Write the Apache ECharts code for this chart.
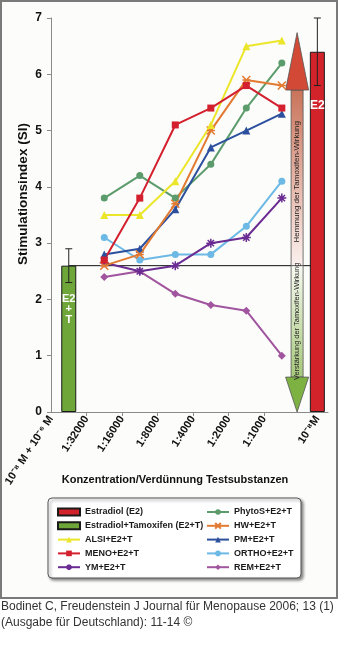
<!DOCTYPE html>
<html><head><meta charset="utf-8">
<script src="https://cdn.jsdelivr.net/npm/echarts@6/dist/echarts.min.js"></script>
<style>html,body{margin:0;padding:0;background:#fff;}#c{width:338px;height:661px;}</style>
</head><body><div id="c"></div>
<script>
// ---- data ----
const dilutions = ['1:32000','1:16000','1:8000','1:4000','1:2000','1:1000'];
const controlLabelE2T = '10⁻⁸ M + 10⁻⁶ M';
const controlLabelE2 = '10⁻⁸M';
const e2Value = 6.4, e2Err = 0.6;
const e2tValue = 2.6, e2tErr = 0.3;
const ALSI   = [3.5, 3.5, 4.1, 5.1, 6.5, 6.6];
const MENO   = [2.7, 3.8, 5.1, 5.4, 5.8, 5.4];
const YM     = [2.65, 2.5, 2.6, 3.0, 3.1, 3.8];
const PhytoS = [3.8, 4.2, 3.8, 4.4, 5.4, 6.2];
const HW     = [2.6, 2.8, 3.7, 5.0, 5.9, 5.8];
const PM     = [2.8, 2.9, 3.6, 4.7, 5.0, 5.3];
const ORTHO  = [3.1, 2.7, 2.8, 2.8, 3.3, 4.1];
const REM    = [2.4, 2.5, 2.1, 1.9, 1.8, 1.0];
const yTicks = [0,1,2,3,4,5,6,7];
const upText = 'Hemmung der Tamoxifen-Wirkung';
const downText = 'Verstärkung der Tamoxifen-Wirkung';

// ---- layout helpers (positions, not data) ----
const FONT = '"Liberation Sans", Arial, sans-serif';
const pos = i => i + 1.5;          // slot of dilution i
const E2T_X = 0.5, E2_X = 7.5, ARROW_X = 6.93;
const lineData = arr => arr.map((v,i)=>[pos(i), v]);
const labelMap = {0: controlLabelE2T, 7.5: controlLabelE2};
dilutions.forEach((d,i)=>{ labelMap[i+1] = d; });

const X_PATH = 'path://M0,0L10,10M10,0L0,10M0,5L10,5';
const STAR_PATH = 'path://M5,0L5,10M0,5L10,5M1.5,1.5L8.5,8.5M8.5,1.5L1.5,8.5';

function lineSeries(name, data, color, symbol, size, extra){
  return Object.assign({
    name, type:'line', data: lineData(data), symbol, symbolSize: size,
    lineStyle:{color, width:2}, itemStyle:{color, borderColor: color, borderWidth: 0},
    z: 4, silent:true, animation:false
  }, extra||{});
}

const legendText = {fontSize:9, fontWeight:'bold', color:'#1a1a1a', fontFamily:FONT, lineHeight:12};
const chart = echarts.init(document.getElementById('c'), null, {renderer:'canvas'});
const option = {
  animation:false,
  textStyle:{fontFamily: FONT},
  grid:{left:51, right:10, top:18, bottom:249, containLabel:false},
  xAxis:{
    type:'value', min:0, max:7.8,
    axisLine:{show:true, lineStyle:{color:'#8a8a8a', width:1}},
    axisTick:{show:true, customValues:[1,2,3,4,5,6], length:4, lineStyle:{color:'#8a8a8a'}},
    axisLabel:{show:true, customValues:[0,1,2,3,4,5,6,7.5], rotate:57, margin:5,
      formatter: v => labelMap[v] || '', fontSize:11, fontWeight:'bold', color:'#111', fontFamily:FONT},
    splitLine:{show:false}
  },
  yAxis:{
    type:'value', min:0, max:7, interval:1,
    axisLine:{show:true, lineStyle:{color:'#8a8a8a', width:1}},
    axisTick:{show:true, length:4, lineStyle:{color:'#8a8a8a'}},
    axisLabel:{fontSize:12, fontWeight:'bold', color:'#111', margin:9, fontFamily:FONT,
      formatter: v => yTicks.includes(v) ? String(v) : ''},
    splitLine:{show:false}
  },
  legend:[
    {orient:'vertical', left:57, top:506, padding:0, itemWidth:22, itemHeight:7, itemGap:1.8, itemStyle:{},
     textStyle:legendText,
     data:[{name:'Estradiol (E2)', icon:'rect'},{name:'Estradiol+Tamoxifen (E2+T)', icon:'rect'},'ALSI+E2+T','MENO+E2+T','YM+E2+T']},
    {orient:'vertical', left:206, top:506, padding:0, itemWidth:22, itemHeight:7, itemGap:1.8,
     textStyle:legendText,
     data:['PhytoS+E2+T','HW+E2+T','PM+E2+T','ORTHO+E2+T','REM+E2+T']}
  ],
  graphic:[
    {type:'rect', shape:{x:1, y:1, width:336, height:597}, style:{fill:'#fcfcfa', stroke:'#7a7a7a', lineWidth:2}, z:-10, silent:true},
    {type:'rect', shape:{x:48, y:498, width:253, height:80, r:4},
     style:{fill:'#fff', stroke:'#555', lineWidth:1, shadowBlur:3, shadowOffsetX:2, shadowOffsetY:2, shadowColor:'rgba(0,0,0,0.45)'}, z:-5, silent:true},
    {type:'text', x:23, y:194, rotation:Math.PI/2, style:{text:'Stimulationsindex (SI)', font:'bold 13.5px '+FONT, fill:'#111', align:'center', verticalAlign:'middle'}, silent:true},
    {type:'text', x:175, y:480, style:{text:'Konzentration/Verdünnung Testsubstanzen', font:'bold 11px '+FONT, fill:'#111', align:'center', verticalAlign:'middle'}, silent:true},
    {type:'text', x:1, y:607, style:{text:'Bodinet C, Freudenstein J Journal für Menopause 2006; 13 (1)', font:'12px '+FONT, fill:'#333', align:'left', verticalAlign:'middle'}, silent:true},
    {type:'text', x:1, y:623, style:{text:'(Ausgabe für Deutschland): 11-14 ©', font:'12px '+FONT, fill:'#333', align:'left', verticalAlign:'middle'}, silent:true}
  ],
  series:[
    // reference line at E2+T level
    {name:'ref', type:'line', data:[[E2T_X, e2tValue],[E2_X, e2tValue]], symbol:'none',
     lineStyle:{color:'#111', width:1}, z:1, silent:true},
    // arrows
    {name:'arrows', type:'custom', z:2, silent:true,
     data:[[ARROW_X, e2tValue, 6.74, 5.72, 0],[ARROW_X, e2tValue, 0, 0.62, 1]],
     renderItem:(p, api)=>{
       const x = api.value(0), base = api.coord([x, api.value(1)]), tip = api.coord([x, api.value(2)]), hb = api.coord([x, api.value(3)]);
       const up = api.value(4) === 0;
       const sw = 6, hw = 11.5, cx = base[0];
       const y0 = Math.min(base[1], hb[1]), y1 = Math.max(base[1], hb[1]);
       const shaftGrad = up
         ? new echarts.graphic.LinearGradient(0,0,0,1,[{offset:0,color:'#c9735a'},{offset:1,color:'#fbf1ee'}])
         : new echarts.graphic.LinearGradient(0,0,0,1,[{offset:0,color:'#f7faf2'},{offset:1,color:'#a6c77a'}]);
       const headColor = up ? '#d24a36' : '#7db142';
       return {type:'group', children:[
         {type:'rect', shape:{x:cx-sw, y:y0, width:2*sw, height:y1-y0}, style:{fill:shaftGrad, stroke:'#555', lineWidth:0.8}},
         {type:'polygon', shape:{points:[[cx-hw,hb[1]],[cx+hw,hb[1]],[cx,tip[1]]]}, style:{fill:headColor, stroke:'#555', lineWidth:0.8}},
         {type:'text', x:cx, y:(y0+y1)/2 + (up? 4 : 0), rotation:Math.PI/2,
          style:{text: up ? upText : downText, font: (up?'8px ':'7.4px ')+FONT, fill:'#222', align:'center', verticalAlign:'middle'}}
       ]};
     }},
    // bars
    {name:'Estradiol+Tamoxifen (E2+T)', type:'bar', data:[[E2T_X, e2tValue]], barWidth:15, z:3,
     itemStyle:{color:'#6ea63a', borderColor:'#1a1a1a', borderWidth:1},
     label:{show:true, position:'insideTop', distance:28, formatter:'E2\n+\nT', color:'#fff', fontSize:11, fontWeight:'bold', lineHeight:10.5, fontFamily:FONT}},
    {name:'Estradiol (E2)', type:'bar', data:[[E2_X, e2Value]], barWidth:15, barGap:'-100%', z:3,
     itemStyle:{color:'#d2232a', borderColor:'#1a1a1a', borderWidth:1},
     label:{show:true, position:'insideTop', distance:48, formatter:'E2', color:'#fff', fontSize:12, fontWeight:'bold', fontFamily:FONT}},
    // error bars
    {name:'err', type:'custom', z:5, silent:true,
     data:[[E2T_X, e2tValue-e2tErr, e2tValue+e2tErr],[E2_X, e2Value-e2Err, e2Value+e2Err]],
     renderItem:(p, api)=>{
       const x = api.value(0), a = api.coord([x, api.value(2)]), b = api.coord([x, api.value(1)]), w = 3.5;
       const st = {stroke:'#222', lineWidth:1};
       return {type:'group', children:[
         {type:'line', shape:{x1:a[0], y1:a[1], x2:b[0], y2:b[1]}, style:st},
         {type:'line', shape:{x1:a[0]-w, y1:a[1], x2:a[0]+w, y2:a[1]}, style:st},
         {type:'line', shape:{x1:b[0]-w, y1:b[1], x2:b[0]+w, y2:b[1]}, style:st}
       ]};
     }},
    lineSeries('REM+E2+T', REM, '#a0559e', 'diamond', 8),
    lineSeries('ORTHO+E2+T', ORTHO, '#6cb9e6', 'circle', 7),
    lineSeries('YM+E2+T', YM, '#6a2c92', STAR_PATH, 9, {itemStyle:{color:'#6a2c92', borderColor:'#6a2c92', borderWidth:1.5}}),
    lineSeries('PhytoS+E2+T', PhytoS, '#5c9c6c', 'circle', 7),
    lineSeries('PM+E2+T', PM, '#2c4f9e', 'triangle', 8),
    lineSeries('HW+E2+T', HW, '#e27a32', X_PATH, 8, {itemStyle:{color:'#e27a32', borderColor:'#e27a32', borderWidth:1.5}}),
    lineSeries('ALSI+E2+T', ALSI, '#ece62a', 'triangle', 8),
    lineSeries('MENO+E2+T', MENO, '#d4202e', 'rect', 7)
  ]
};
chart.setOption(option);
</script></body></html>
